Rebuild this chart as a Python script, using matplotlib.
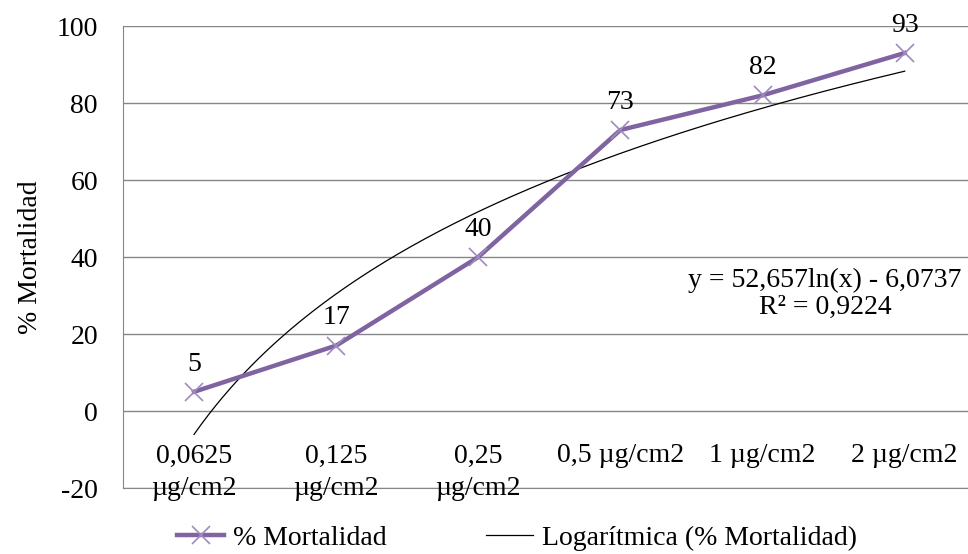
import numpy as np
import matplotlib.pyplot as plt

# data
categories = ["0,0625\nµg/cm2", "0,125\nµg/cm2", "0,25\nµg/cm2",
              "0,5 µg/cm2", "1 µg/cm2", "2 µg/cm2"]
mortalidad = [5, 17, 40, 73, 82, 93]
y_ticks = [-20, 0, 20, 40, 60, 80, 100]
equation_text = "y = 52,657ln(x) - 6,0737\nR² = 0,9224"

PURPLE = "#8064A2"
GRID = "#868686"
FS = 20

plt.rcParams["font.family"] = ["Liberation Serif", "DejaVu Serif"]
plt.rcParams["font.size"] = FS
plt.rcParams["axes.unicode_minus"] = False

fig = plt.figure(figsize=(9.68, 5.54), dpi=100)
ax = fig.add_axes([0.127, 0.119, 0.881, 0.834])

x = np.arange(1, len(mortalidad) + 1)

# Excel-style logarithmic trendline fitted on category index
slope, intercept = np.polyfit(np.log(x), mortalidad, 1)
xs = np.linspace(1, len(mortalidad), 200)
trend, = ax.plot(xs, slope * np.log(xs) + intercept, color="black", lw=0.9,
                 label="Logarítmica (% Mortalidad)", zorder=3)

series, = ax.plot(x, mortalidad, color=PURPLE, lw=3.2, marker="x",
                  markersize=13, markeredgewidth=1.2, markeredgecolor="#9F8BC0",
                  label="% Mortalidad", zorder=4)

for xi, yi in zip(x, mortalidad):
    ax.annotate(str(yi), (xi, yi), xytext=(0, 11), textcoords="offset points",
                ha="center", va="bottom", fontsize=FS)

# category labels sit below the zero line, inside the plot area
for xi, lab in zip(x, categories):
    ax.text(xi, -8.4, lab, ha="center", va="top", multialignment="center",
            fontsize=FS, linespacing=1.42)

ax.text(5.44, 30.5, equation_text, ha="center", va="center",
        multialignment="center", fontsize=FS, linespacing=1.1)

ax.set_xlim(0.5, 6.5)
ax.set_ylim(-20, 100)
ax.set_yticks(y_ticks)
ax.set_xticks([])
ax.yaxis.grid(True, color=GRID, lw=1.0)
ax.set_axisbelow(True)
ax.tick_params(axis="y", length=0, pad=18, labelsize=FS)
for s in ["top", "right"]:
    ax.spines[s].set_visible(False)
for s in ["left", "bottom"]:
    ax.spines[s].set_color(GRID)
ax.set_ylabel("% Mortalidad", fontsize=FS, labelpad=10)

fig.legend(handles=[series, trend], loc="center", ncol=2, frameon=False,
           bbox_to_anchor=(0.534, 0.028), columnspacing=3.6, handlelength=1.7,
           handletextpad=0.3, fontsize=FS)

fig.savefig("out.png", dpi=100)
